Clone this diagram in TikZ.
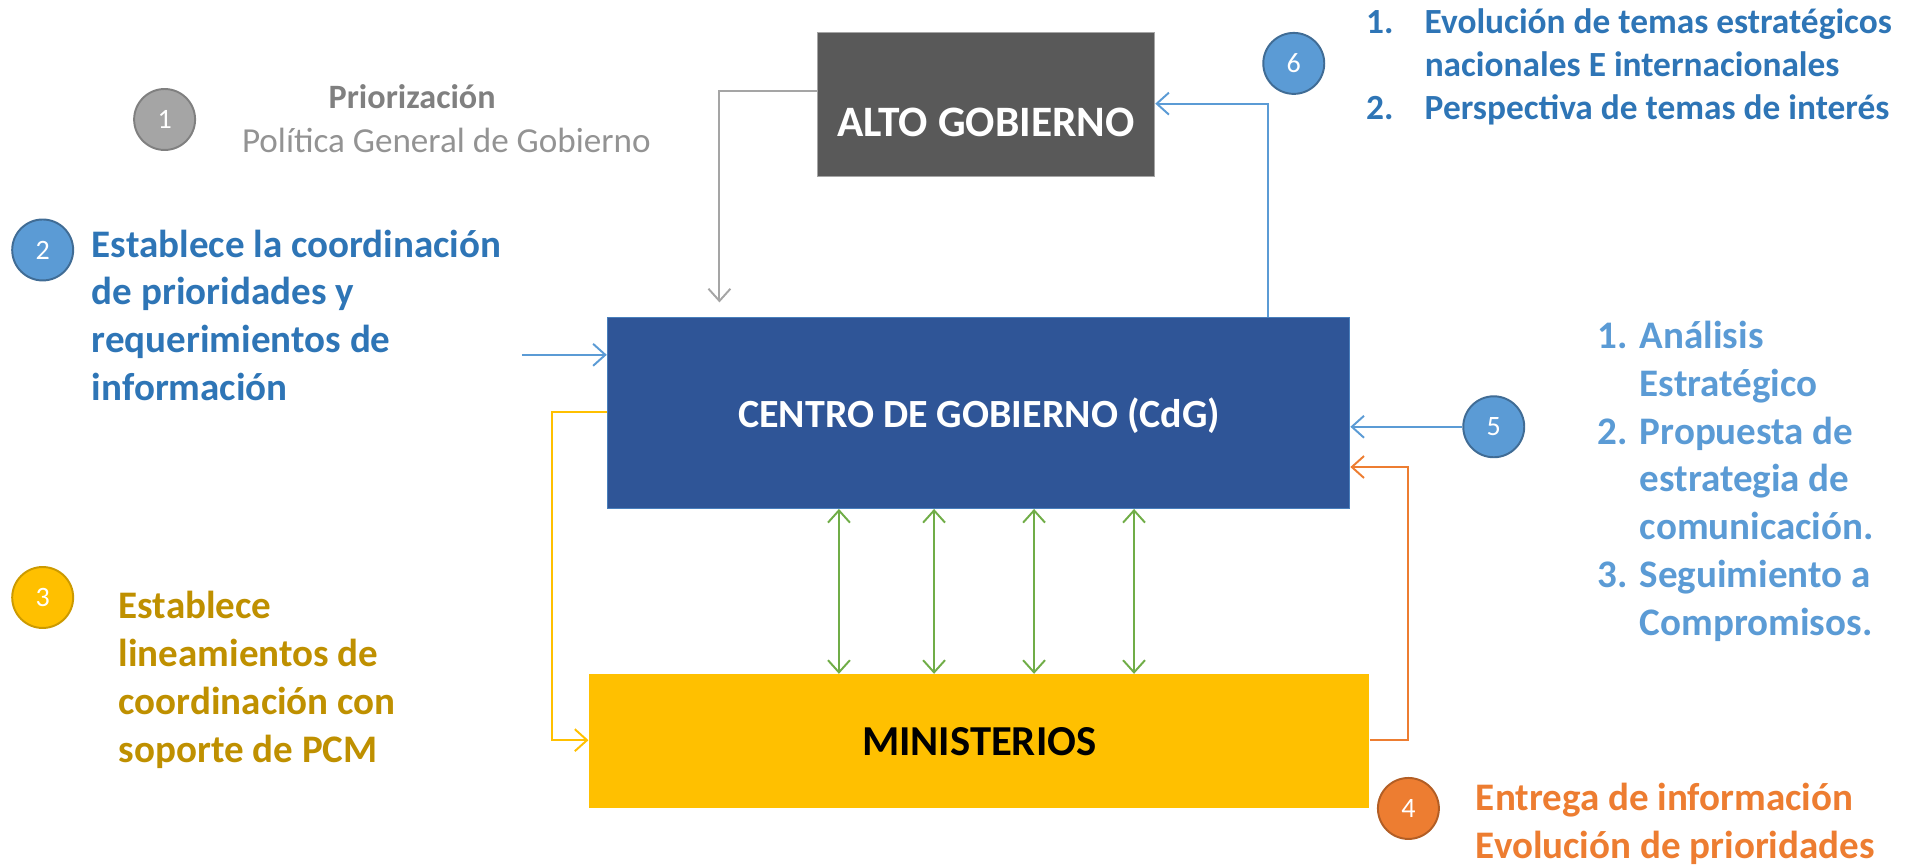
\documentclass[tikz,border=0pt]{standalone}
\usepackage{fontspec}
\setmainfont{Carlito}
\usetikzlibrary{arrows.meta}
\definecolor{altogris}{HTML}{595959}
\definecolor{cdgazul}{HTML}{2F5597}
\definecolor{minamarillo}{HTML}{FFC000}
\definecolor{azultxt}{HTML}{2E75B6}
\definecolor{celeste}{HTML}{5B9BD5}
\definecolor{oro}{HTML}{BF9000}
\definecolor{naranja}{HTML}{ED7D31}
\definecolor{verde}{HTML}{70AD47}
\definecolor{grisflecha}{HTML}{A5A5A5}
\tikzset{
  caja/.style={inner sep=0pt, font=\bfseries},
  circulo/.style={circle, minimum size=25pt, inner sep=0pt, line width=0.8pt, text=white, font=\fontsize{11.5}{13}\selectfont},
  nota/.style={inner sep=0pt, anchor=north west, align=left, font=\fontsize{16}{19.6}\selectfont\bfseries},
  flecha/.style={-{Straight Barb[length=5pt,width=9pt]}, line width=0.8pt},
}
\begin{document}
\begin{tikzpicture}[x=0.5pt, y=-0.5pt]
\useasboundingbox (0,0) rectangle (1568,709.4);
%		    \draw[help lines] (0,0) grid (1568,709);
			\node[caja, draw=grisflecha, fill=altogris, minimum width=138.5pt, minimum height=59pt] (alto) at (808.5,86) {};
			\node[text=white, font=\fontsize{17.8}{22}\selectfont\bfseries] (altotxt) at (808.5,100) {ALTO GOBIERNO};
			\node[caja, draw=celeste!60!cdgazul, fill=cdgazul, minimum width=304.5pt, minimum height=78.5pt] (cdg) at (802.5,338.5) {};
			\node[text=white, font=\fontsize{16.4}{20}\selectfont\bfseries] (cdgtxt) at (803,341) {CENTRO DE GOBIERNO (CdG)};
			\node[caja, fill=minamarillo, minimum width=320pt, minimum height=55pt, font=\fontsize{17.5}{20}\selectfont\bfseries] (min) at (803,608) {MINISTERIOS};
			\node[circulo, fill=grisflecha, draw=gray] (c1) at (135,98) {1};
			\node[circulo, fill=celeste, draw=celeste!70!black] (c2) at (35,205) {2};
			\node[circulo, fill=minamarillo, draw=minamarillo!80!black] (c3) at (35,490) {3};
			\node[circulo, fill=naranja, draw=naranja!75!black] (c4) at (1155,663) {4};
			\node[circulo, fill=celeste, draw=celeste!70!black] (c5) at (1225,350) {5};
			\node[circulo, fill=celeste, draw=celeste!70!black] (c6) at (1061,52) {6};
			\node[text=gray, font=\fontsize{14}{17}\selectfont\bfseries, inner sep=0pt] (prio) at (338,79) {Priorización};
			\node[text=gray!85, font=\fontsize{14.4}{17}\selectfont, inner sep=0pt] (pgg) at (366,115) {Política General de Gobierno};
			\node[nota, text=azultxt] (t2) at (75,188) {Establece la coordinación\\de prioridades y\\requerimientos de\\información};
			\node[nota, text=oro] (t3) at (97,484.5) {Establece\\lineamientos de\\coordinación con\\soporte de PCM};
			\node[nota, text=naranja] (t4) at (1210,642) {Entrega de información\\Evolución de prioridades};
			\node[nota, text=celeste] (t5) at (1310,263) {1. Análisis\\\phantom{1. }Estratégico\\2. Propuesta de\\\phantom{2. }estrategia de\\\phantom{2. }comunicación.\\3. Seguimiento a\\\phantom{3. }Compromisos.};
			\node[nota, text=azultxt, font=\fontsize{14.5}{17.5}\selectfont\bfseries] (t6) at (1120,7) {\makebox[24pt][l]{1.}Evolución de temas estratégicos\\\makebox[24pt][l]{}nacionales E internacionales\\\makebox[24pt][l]{2.}Perspectiva de temas de interés};
			\coordinate (e2) at (428,291);
			\draw[flecha, grisflecha] (alto.west |- 0,75) -| (590,248);
			\draw[flecha, celeste] (cdg.north -| 1040,0) |- (alto.east |- 0,85);
			\draw[flecha, celeste] (e2) -- (cdg.west |- e2);
			\draw[flecha, celeste] (c5) -- (cdg.east |- c5);
			\draw[flecha, minamarillo] (cdg.west |- 0,338) -| (453,607) -- (min.west |- 0,607);
			\draw[flecha, naranja] (min.east |- 0,607) -| (1155,383) -- (cdg.east |- 0,383);
			\foreach \x in {688,766,848,930}
			  \draw[{Straight Barb[length=5pt,width=9pt]}-{Straight Barb[length=5pt,width=9pt]}, line width=0.8pt, verde] (cdg.south -| \x,0) -- (min.north -| \x,0);
\end{tikzpicture}
\end{document}
